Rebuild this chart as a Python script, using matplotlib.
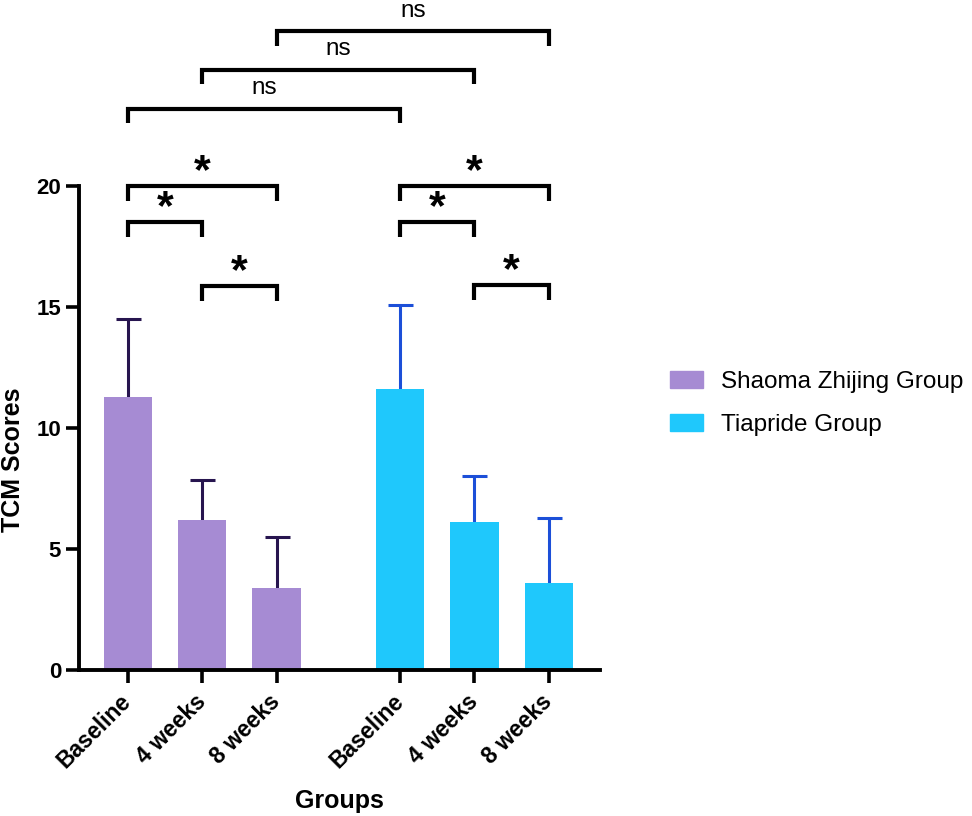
import matplotlib
matplotlib.use("Agg")
import matplotlib.pyplot as plt
from matplotlib.patches import Patch

plt.rcParams["font.family"] = ["Liberation Sans", "DejaVu Sans"]

# ---------------------------------------------------------------------------
# Data
# ---------------------------------------------------------------------------
tick_labels = ["Baseline", "4 weeks", "8 weeks", "Baseline", "4 weeks", "8 weeks"]
group_names = ["Shaoma Zhijing Group", "Tiapride Group"]
shaoma_means = [11.3, 6.2, 3.4]
shaoma_sd = [3.2, 1.65, 2.1]
tiapride_means = [11.6, 6.1, 3.6]
tiapride_sd = [3.5, 1.9, 2.7]

# significance brackets: (left bar, right bar, height, label)
sig_left = [0, 0, 1, 3, 3, 4, 0, 1, 2]
sig_right = [1, 2, 2, 4, 5, 5, 3, 4, 5]
sig_height = [18.5, 20.0, 15.85, 18.5, 20.0, 15.9, 23.2, 24.8, 26.4]
sig_label = ["*", "*", "*", "*", "*", "*", "ns", "ns", "ns"]

# ---------------------------------------------------------------------------
# Style
# ---------------------------------------------------------------------------
purple = "#A68BD3"
cyan = "#1FC8FC"
navy = "#27154F"
blue = "#1C4FD8"

x1 = [0, 1, 2]
x2 = [3.655, 4.655, 5.655]
xpos = x1 + x2

fig = plt.figure(figsize=(9.72, 8.16), dpi=100)
ax = fig.add_axes([79 / 972, 146 / 816, 521 / 972, 484 / 816])

ax.bar(x1, shaoma_means, width=0.65, color=purple, zorder=2)
ax.bar(x2, tiapride_means, width=0.65, color=cyan, zorder=2)
for xs, means, sd, col in ((x1, shaoma_means, shaoma_sd, navy),
                           (x2, tiapride_means, tiapride_sd, blue)):
    _, caps, _ = ax.errorbar(xs, means, yerr=[[0] * 3, sd], fmt="none",
                             ecolor=col, elinewidth=2.2, capsize=9,
                             capthick=2.2, zorder=1)
    caps[0].set_visible(False)  # only the upper half of the SD is shown

ax.set_xlim(-0.654, 6.34)
ax.set_ylim(0, 20)
ax.set_yticks([0, 5, 10, 15, 20])
ax.set_xticks(xpos)
ax.set_xticklabels(tick_labels, rotation=45, ha="right", va="center",
                   rotation_mode="anchor", fontsize=16.5, fontweight="bold")
for lab in ax.get_yticklabels():
    lab.set_fontweight("bold")
    lab.set_fontsize(16)

for side in ("top", "right"):
    ax.spines[side].set_visible(False)
for side in ("left", "bottom"):
    ax.spines[side].set_linewidth(2.8)
ax.tick_params(axis="both", length=9.4, width=2.6, color="black")
ax.tick_params(axis="x", pad=11)
ax.tick_params(axis="y", pad=3.5)

ax.set_ylabel("TCM Scores", fontsize=18, fontweight="bold")
ax.yaxis.label.set(va="center", ha="center")
ax.yaxis.set_label_coords(-0.127, 0.434)
ax.set_xlabel("Groups", fontsize=18, fontweight="bold")
ax.xaxis.set_label_coords(0.5, -0.245)

# significance brackets
leg = 0.6
for i, j, h, lab in zip(sig_left, sig_right, sig_height, sig_label):
    xa, xb = xpos[i], xpos[j]
    ax.plot([xa, xa, xb, xb], [h - leg, h, h, h - leg], color="black", lw=3,
            solid_joinstyle="miter", solid_capstyle="butt", clip_on=False)
    if lab == "*":
        ax.text((xa + xb) / 2, h + 0.12, lab, ha="center", va="baseline",
                fontsize=31, fontweight="bold")
    else:
        ax.text((xa + xb) / 2, h + 0.6, lab, ha="center", va="baseline",
                fontsize=17.5)

handles = [Patch(color=purple), Patch(color=cyan)]
fig.legend(handles, group_names, loc="center left",
           bbox_to_anchor=(670 / 972, 0.5055), frameon=False, fontsize=17.5,
           handlelength=1.35, handleheight=0.7, handletextpad=0.75,
           labelspacing=0.85, borderpad=0, borderaxespad=0)

fig.savefig("out.png", dpi=100)
